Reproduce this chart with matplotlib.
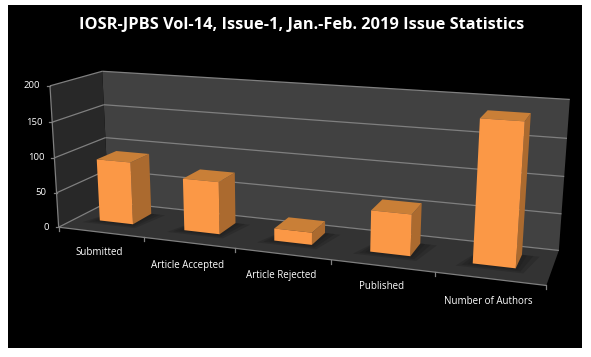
import numpy as np
import matplotlib
matplotlib.use("Agg")
import matplotlib.pyplot as plt

TITLE = "IOSR-JPBS Vol-14, Issue-1, Jan.-Feb. 2019 Issue Statistics"
CATEGORIES = ["Submitted", "Article Accepted", "Article Rejected", "Published", "Number of Authors"]
VALUES = [90, 74, 17, 56, 186]
Y_TICKS = [0, 50, 100, 150, 200]

W, H = 591, 357
BAR_WIDTH = 0.4
BAR_CENTER = 0.48
Z_FRONT, Z_BACK = 0.35, 0.75
LABEL_DROP = [20, 23, 22, 21, 23]

FRONT = "#fb9846"
SIDE = "#ab6a2f"
TOP = "#c97f37"
GRID = "#7f7f7f"

# where the corners of the 3d box sit in the picture: (cat, depth, value) -> pixel
ANCHORS = [
    (0, 0, 0, 59, 227), (5, 0, 0, 546, 285), (0, 1, 0, 108, 202), (5, 1, 0, 559, 250),
    (0, 0, 200, 50, 86), (0, 1, 200, 102, 72), (5, 1, 200, 570, 99),
    (0, 0, 100, 54, 157), (0, 1, 100, 106, 137), (5, 1, 100, 564, 177),
    (1, 0, 0, 144, 238), (2, 0, 0, 234, 248), (3, 0, 0, 332, 260), (4, 0, 0, 435, 273),
]


def fit_camera(anchors):
    rows = []
    rhs = []
    for x, z, v, px, py in anchors:
        v = v / 200
        rows.append([x, z, v, 1, 0, 0, 0, 0, -px * x, -px * z, -px * v])
        rhs.append(px)
        rows.append([0, 0, 0, 0, x, z, v, 1, -py * x, -py * z, -py * v])
        rhs.append(py)
    p = np.linalg.lstsq(np.array(rows, float), np.array(rhs, float), rcond=None)[0]
    return np.append(p, 1.0).reshape(3, 4)


CAM = fit_camera(ANCHORS)


def proj(x, z, v):
    u = CAM @ np.array([x, z, v / 200, 1.0])
    return u[0] / u[2], u[1] / u[2]


def quad(ax, pts, color, zorder=3, **kw):
    xy = np.array([proj(*p) for p in pts])
    ax.fill(xy[:, 0], xy[:, 1], color=color, lw=0, zorder=zorder, **kw)


def line(ax, a, b, color=GRID, lw=0.9, zorder=2):
    pa, pb = proj(*a), proj(*b)
    ax.plot([pa[0], pb[0]], [pa[1], pb[1]], color=color, lw=lw, solid_capstyle="butt", zorder=zorder)


def draw_bar(ax, i, value):
    x0 = i + BAR_CENTER - BAR_WIDTH / 2
    x1 = i + BAR_CENTER + BAR_WIDTH / 2
    z0, z1 = Z_FRONT, Z_BACK
    # soft shadow on the floor, a few layers growing outward
    for grow in [0.14, 0.09, 0.04]:
        quad(ax, [(x0 - grow, z0 - grow * 0.8, 0), (x1 + grow * 0.6, z0 - grow * 0.8, 0),
                  (x1 + grow * 1.2, z1, 0), (x0, z1, 0)],
             "#141414", zorder=2.5, alpha=0.22)
    quad(ax, [(x1, z0, 0), (x1, z1, 0), (x1, z1, value), (x1, z0, value)], SIDE)
    quad(ax, [(x0, z0, value), (x1, z0, value), (x1, z1, value), (x0, z1, value)], TOP)
    quad(ax, [(x0, z0, 0), (x1, z0, 0), (x1, z0, value), (x0, z0, value)], FRONT)


def main():
    fig = plt.figure(figsize=(W / 100, H / 100), dpi=100, facecolor="white")
    ax = fig.add_axes([0, 0, 1, 1])
    ax.set_xlim(0, W)
    ax.set_ylim(H, 0)
    ax.axis("off")
    ax.fill([8, 582, 582, 8], [5, 5, 348, 348], color="black", lw=0, zorder=0)

    n = len(CATEGORIES)
    top = Y_TICKS[-1]

    # walls and floor
    quad(ax, [(0, 1, 0), (n, 1, 0), (n, 1, top), (0, 1, top)], "#414141", zorder=1)
    quad(ax, [(0, 0, 0), (0, 1, 0), (0, 1, top), (0, 0, top)], "#282828", zorder=1)
    quad(ax, [(0, 0, 0), (n, 0, 0), (n, 1, 0), (0, 1, 0)], "#333333", zorder=1)

    for t in Y_TICKS:
        line(ax, (0, 1, t), (n, 1, t))
        line(ax, (0, 0, t), (0, 1, t))
        px, py = proj(0, 0, t)
        ax.plot([px - 3, px], [py, py], color=GRID, lw=0.9, zorder=2)
        ax.text(px - 10, py, str(t), color="white", ha="right", va="center",
                fontsize=6.8, family="Open Sans")

    line(ax, (0, 0, 0), (0, 0, top))
    line(ax, (0, 0, 0), (n, 0, 0))
    for i in range(n + 1):
        px, py = proj(i, 0, 0)
        ax.plot([px, px], [py, py + 4], color=GRID, lw=0.9, zorder=2)

    for i, value in enumerate(VALUES):
        draw_bar(ax, i, value)

    # category labels sit under the front edge
    for i, name in enumerate(CATEGORIES):
        px, py = proj(i + 0.5, 0, 0)
        ax.text(px - 1, py + LABEL_DROP[i], name, color="white", ha="center", va="center",
                fontsize=7, family="Open Sans")

    ax.text(301.5, 25, TITLE, color="white", ha="center", va="center",
            fontsize=11.8, fontweight="bold", family="Open Sans")

    fig.savefig("out.png", dpi=100, facecolor="white")


if __name__ == "__main__":
    main()
